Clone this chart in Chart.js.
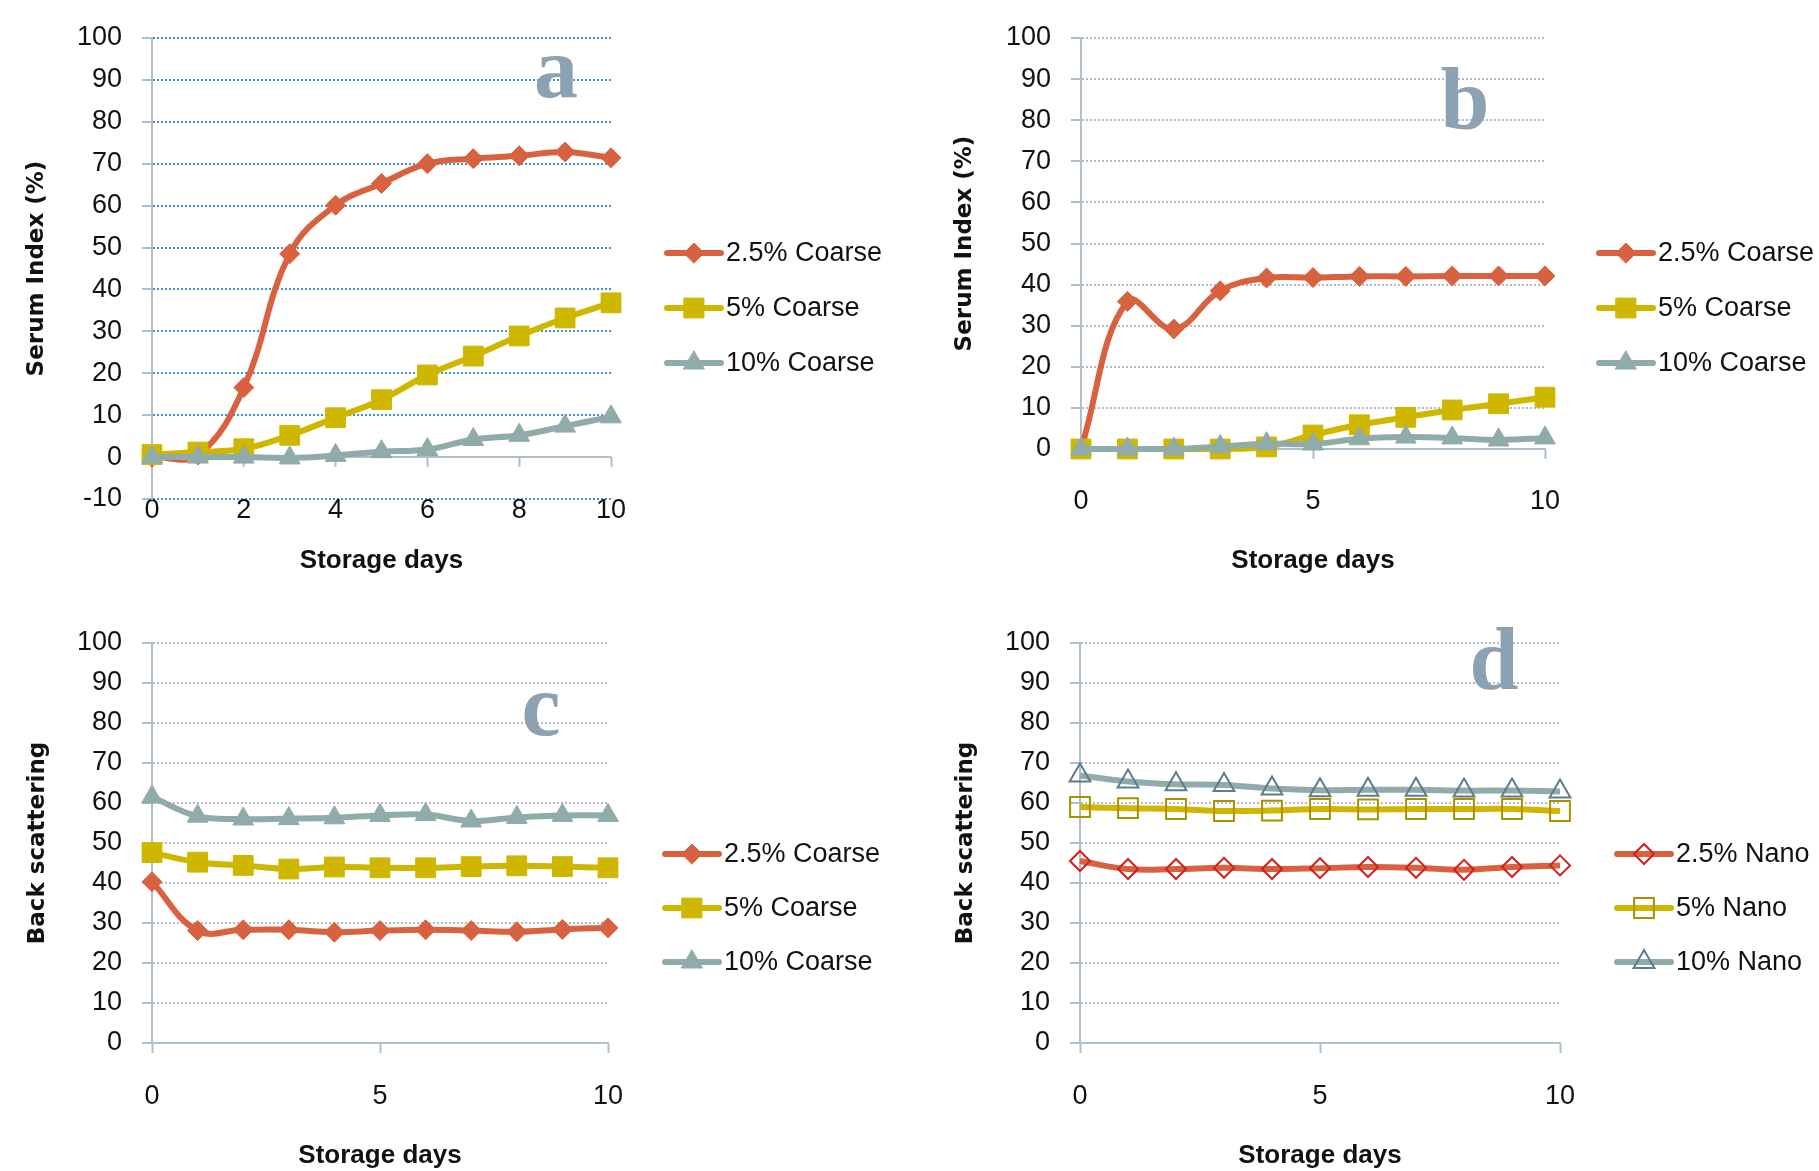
<!DOCTYPE html>
<html>
<head>
<meta charset="utf-8">
<title>Serum index and back scattering</title>
<script src="https://cdn.jsdelivr.net/npm/chart.js"></script>
<style>
    body { margin: 0; background: #fff; }
    .sheet { position: relative; width: 1819px; height: 1171px; overflow: hidden; }
    .panel { position: absolute; }
    .tag {
        position: absolute;
        font-family: "Liberation Serif", "DejaVu Serif", serif;
        font-weight: bold;
        font-size: 88px;
        line-height: 1;
        color: #8ca2b2;
        transform: translateX(-50%);
    }
</style>
</head>
<body>
<div class="sheet">
    <div class="panel" style="left:0;top:0"><canvas id="chartA" width="910" height="590"></canvas></div>
    <div class="panel" style="left:910px;top:0"><canvas id="chartB" width="909" height="590"></canvas></div>
    <div class="panel" style="left:0;top:590px"><canvas id="chartC" width="910" height="581"></canvas></div>
    <div class="panel" style="left:910px;top:590px"><canvas id="chartD" width="909" height="581"></canvas></div>
    <div class="tag" style="left:556px;top:24px">a</div>
    <div class="tag" style="left:1465px;top:56px">b</div>
    <div class="tag" style="left:541px;top:662px">c</div>
    <div class="tag" style="left:1494px;top:616px">d</div>
</div>
<script>
// Storage days (x values shared by all panels)
const days = [0, 1, 2, 3, 4, 5, 6, 7, 8, 9, 10];

// a - serum index, coarse emulsions
const serumA_25 = [0, 0.5, 16.6, 48.5, 60.1, 65.3, 70.0, 71.2, 71.9, 72.8, 71.4];
const serumA_5  = [0.6, 1.2, 2.0, 5.2, 9.4, 13.7, 19.6, 24.1, 28.9, 33.2, 36.8];
const serumA_10 = [0, 0, 0, -0.2, 0.4, 1.3, 1.8, 4.2, 5.2, 7.4, 9.6];

// b - serum index, second set
const serumB_25 = [0, 35.9, 29.2, 38.5, 41.6, 41.7, 42.0, 42.0, 42.1, 42.1, 42.1];
const serumB_5  = [0, 0, 0, 0, 0.5, 3.4, 5.9, 7.7, 9.5, 11.0, 12.6];
const serumB_10 = [0, 0, 0, 0.6, 1.3, 1.2, 2.5, 2.9, 2.7, 2.2, 2.7];

// c - back scattering, coarse
const backC_25 = [40.3, 28.1, 28.3, 28.3, 27.7, 28.1, 28.3, 28.1, 27.8, 28.4, 28.8];
const backC_5  = [47.6, 45.2, 44.4, 43.5, 44.0, 43.8, 43.8, 44.1, 44.3, 44.1, 43.8];
const backC_10 = [61.5, 56.7, 56.0, 56.1, 56.3, 56.9, 57.1, 55.5, 56.4, 56.9, 56.9];

// d - back scattering, nano
const backD_25 = [45.5, 43.5, 43.5, 43.8, 43.5, 43.7, 44.0, 43.8, 43.3, 44.0, 44.4];
const backD_5  = [59.0, 58.7, 58.5, 58.0, 58.1, 58.5, 58.4, 58.5, 58.5, 58.5, 58.0];
const backD_10 = [66.9, 65.4, 64.7, 64.5, 63.6, 63.2, 63.3, 63.3, 63.1, 63.1, 62.9];

const coarseLabels = ['2.5% Coarse', '5% Coarse', '10% Coarse'];
const nanoLabels = ['2.5% Nano', '5% Nano', '10% Nano'];

const RED = '#d8623f';
const YELLOW = '#cfb700';
const TEAL = '#8fabaa';
const AXIS = '#aebfcb';

Chart.defaults.font.family = '"Liberation Sans", Arial, sans-serif';
Chart.defaults.font.size = 27;
Chart.defaults.color = '#111';
Chart.defaults.animation = false;

function toPoints(values) {
    return values.map((v, i) => ({ x: days[i], y: v }));
}

// legend drawn as a short line with the series marker, like the spreadsheet legend
const lineLegend = {
    id: 'lineLegend',
    afterDraw(chart, args, opts) {
        const ctx = chart.ctx;
        const x = chart.chartArea.right + opts.offset;
        chart.data.datasets.forEach((ds, i) => {
            const y = opts.top + i * opts.gap;
            ctx.save();
            ctx.strokeStyle = ds.borderColor;
            ctx.lineWidth = ds.borderWidth;
            ctx.lineCap = 'round';
            ctx.beginPath();
            ctx.moveTo(x - 27, y);
            ctx.lineTo(x + 27, y);
            ctx.stroke();
            ctx.fillStyle = ds.pointBackgroundColor;
            ctx.strokeStyle = ds.pointBorderColor;
            ctx.lineWidth = ds.pointBorderWidth;
            Chart.helpers.drawPoint(ctx, {
                pointStyle: ds.pointStyle,
                radius: ds.pointRadius,
                borderWidth: ds.pointBorderWidth,
                rotation: 0
            }, x, y);
            ctx.fillStyle = '#111';
            ctx.font = '27px "Liberation Sans", Arial, sans-serif';
            ctx.textBaseline = 'middle';
            ctx.textAlign = 'left';
            ctx.fillText(ds.label, x + 32, y + 1);
            ctx.restore();
        });
    }
};

function makeSeries(labels, values, hollow) {
    const styles = [
        { color: RED, edge: '#d41f1f', point: 'rectRot', radius: 10 },
        { color: YELLOW, edge: '#a89200', point: 'rect', radius: 14 },
        { color: TEAL, edge: '#5d7d8c', point: 'triangle', radius: 12 }
    ];
    return values.map((vals, i) => ({
        label: labels[i],
        data: toPoints(vals),
        borderColor: styles[i].color,
        borderWidth: 6,
        tension: 0.4,
        clip: false,
        pointStyle: styles[i].point,
        pointRadius: styles[i].radius,
        pointHoverRadius: styles[i].radius,
        pointBackgroundColor: hollow ? 'rgba(255,255,255,0)' : styles[i].color,
        pointBorderColor: hollow ? styles[i].edge : styles[i].color,
        pointBorderWidth: hollow ? 2 : 1,
        order: 3 - i
    }));
}

function makeChart(id, cfg) {
    const ctx = document.getElementById(id).getContext('2d');
    const scales = {
        x: {
            type: 'linear',
            min: 0,
            max: 10,
            afterFit: s => { s.height = cfg.xHeight; },
            ticks: {
                stepSize: cfg.xStep,
                padding: cfg.xTickPad,
                font: { size: 27, lineHeight: 0.7 }
            },
            grid: {
                drawOnChartArea: false,
                drawTicks: cfg.xTicks,
                tickLength: 10,
                tickColor: AXIS,
                tickWidth: 2
            },
            border: { display: cfg.xBorder, color: AXIS, width: 2 },
            title: {
                display: true,
                text: 'Storage days',
                font: { size: 26, weight: 'bold' },
                padding: { top: 0, bottom: cfg.xTitlePad }
            }
        },
        y: {
            min: cfg.yMin,
            max: 100,
            afterFit: s => { s.width = cfg.yWidth; },
            ticks: { stepSize: 10, padding: 20 },
            grid: {
                color: c => (c.tick && c.tick.value === 0) ? AXIS : cfg.gridColor,
                lineWidth: 2,
                tickLength: 10,
                tickColor: AXIS,
                tickWidth: 2
            },
            border: {
                display: true,
                color: AXIS,
                width: 2,
                dash: c => (c.tick && c.tick.value === 0) ? [] : [2, 2]
            },
            title: {
                display: true,
                text: cfg.yTitle,
                font: { family: '"DejaVu Sans", Verdana, sans-serif', size: 23, weight: 'bold' },
                padding: { top: cfg.yTitlePad, bottom: 0 }
            }
        }
    };
    // panel a: the category axis crosses at zero, its tick marks hang from that line
    if (cfg.zeroTicks) {
        scales.x0 = {
            type: 'linear',
            axis: 'x',
            position: { y: 0 },
            min: 0,
            max: 10,
            ticks: { display: false, stepSize: cfg.xStep },
            grid: {
                drawOnChartArea: false,
                drawTicks: true,
                tickLength: 10,
                tickColor: AXIS,
                tickWidth: 2
            },
            border: { display: false }
        };
    }
    return new Chart(ctx, {
        type: 'line',
        data: { datasets: cfg.datasets },
        options: {
            responsive: false,
            layout: { padding: { left: 0, top: cfg.top, right: cfg.right, bottom: 0 } },
            plugins: {
                legend: { display: false },
                tooltip: { enabled: false },
                lineLegend: cfg.legend
            },
            scales: scales
        },
        plugins: [lineLegend]
    });
}

makeChart('chartA', {
    datasets: makeSeries(coarseLabels, [serumA_25, serumA_5, serumA_10], false),
    top: 38, right: 299, xHeight: 91, yWidth: 152, yMin: -10,
    xStep: 2, xTicks: false, xTickPad: 2, xBorder: false, xTitlePad: 14, zeroTicks: true,
    gridColor: '#3f8fd8', yTitle: 'Serum Index (%)', yTitlePad: 23,
    legend: { offset: 83, top: 253, gap: 55 }
});

makeChart('chartB', {
    datasets: makeSeries(coarseLabels, [serumB_25, serumB_5, serumB_10], false),
    top: 38, right: 274, xHeight: 141, yWidth: 171, yMin: 0,
    xStep: 5, xTicks: true, xTickPad: 33, xBorder: true, xTitlePad: 14, zeroTicks: false,
    gridColor: '#b2bac2', yTitle: 'Serum Index (%)', yTitlePad: 41,
    legend: { offset: 81, top: 253, gap: 55 }
});

makeChart('chartC', {
    datasets: makeSeries(coarseLabels, [backC_25, backC_5, backC_10], false),
    top: 53, right: 302, xHeight: 128, yWidth: 152, yMin: 0,
    xStep: 5, xTicks: true, xTickPad: 34, xBorder: true, xTitlePad: 0, zeroTicks: false,
    gridColor: '#b2bac2', yTitle: 'Back scattering', yTitlePad: 24,
    legend: { offset: 84, top: 264, gap: 54 }
});

makeChart('chartD', {
    datasets: makeSeries(nanoLabels, [backD_25, backD_5, backD_10], true),
    top: 53, right: 259, xHeight: 128, yWidth: 170, yMin: 0,
    xStep: 5, xTicks: true, xTickPad: 34, xBorder: true, xTitlePad: 0, zeroTicks: false,
    gridColor: '#b2bac2', yTitle: 'Back scattering', yTitlePad: 42,
    legend: { offset: 84, top: 264, gap: 54 }
});
</script>
</body>
</html>
